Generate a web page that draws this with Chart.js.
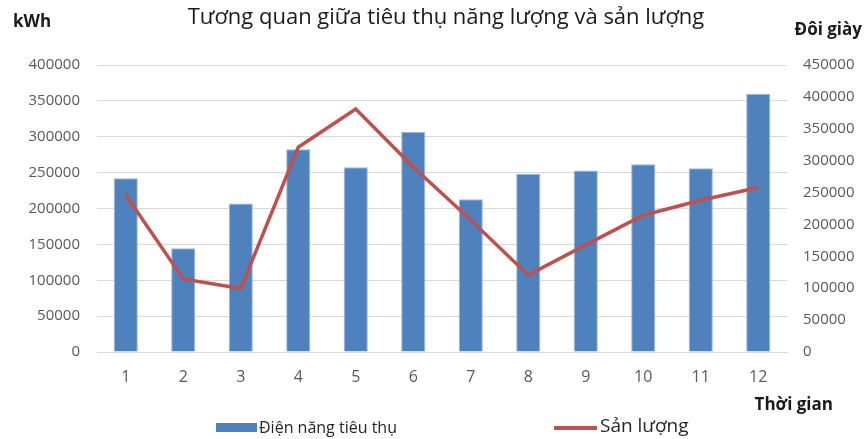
<!DOCTYPE html>
<html>
<head>
<meta charset="utf-8">
<script src="https://cdn.jsdelivr.net/npm/chart.js@4.4.1/dist/chart.umd.min.js"></script>
<style>
  html, body { margin: 0; padding: 0; background: #fff; }
  #wrap { width: 866px; height: 439px; }
</style>
</head>
<body>
<div id="wrap"><canvas id="ComboChart"></canvas></div>
<script>
// du lieu doc tu bieu do
var months = ['1', '2', '3', '4', '5', '6', '7', '8', '9', '10', '11', '12'];
var energyKwh = [242000, 144500, 207000, 282500, 257500, 306500, 213000, 248500, 253000, 261500, 256000, 360000];
var pairsOutput = [246000, 114500, 99500, 321000, 381000, 290000, 207000, 120500, 168000, 214500, 238000, 258000];

var chartTitle = 'Tương quan giữa tiêu thụ năng lượng và sản lượng';
var leftUnit = 'kWh';
var rightUnit = 'Đôi giày';
var xUnit = 'Thời gian';

var FONT = '"Open Sans", "Noto Sans", sans-serif';

// ve tieu de, ten truc va chu thich (legend) bang tay
var decorPlugin = {
    id: 'decor',
    afterDraw: function (chart) {
        var c = chart.ctx;
        c.save();
        c.textBaseline = 'middle';

        c.fillStyle = '#1a1a1a';
        c.font = '22px ' + FONT;
        c.textAlign = 'center';
        c.fillText(chartTitle, 446, 18);

        c.font = 'bold 17px ' + FONT;
        c.textAlign = 'left';
        c.fillText(leftUnit, 13, 22);
        c.textAlign = 'right';
        c.fillText(rightUnit, 862, 30);
        c.fillText(xUnit, 833, 405);

        // legend
        var ds = chart.data.datasets;
        var barDs = ds[1], lineDs = ds[0];
        c.textAlign = 'left';
        c.fillStyle = barDs.backgroundColor;
        c.fillRect(216, 423, 41, 9);
        c.fillStyle = '#262626';
        c.font = '16px ' + FONT;
        c.fillText(barDs.label, 259, 428);

        c.strokeStyle = lineDs.borderColor;
        c.lineWidth = 4;
        c.beginPath();
        c.moveTo(554, 428);
        c.lineTo(597, 428);
        c.stroke();
        c.fillStyle = '#262626';
        c.font = '19px ' + FONT;
        c.fillText(lineDs.label, 600, 427);
        c.restore();
    }
};

var tickFmt = function (v) { return String(v); };

var ctx = document.getElementById('ComboChart').getContext('2d');
var myChart = new Chart(ctx, {
    type: 'bar',
    data: {
        labels: months,
        datasets: [{
            type: 'line',
            label: 'Sản lượng',
            data: pairsOutput,
            yAxisID: 'y2',
            borderColor: '#C0504D',
            backgroundColor: '#C0504D',
            borderWidth: 3.5,
            pointRadius: 0,
            tension: 0,
            order: 0
        }, {
            label: 'Điện năng tiêu thụ',
            data: energyKwh,
            yAxisID: 'y',
            backgroundColor: '#4F81BD',
            borderColor: '#9DB8DA',
            borderWidth: 1,
            barPercentage: 0.42,
            categoryPercentage: 1,
            order: 1
        }]
    },
    options: {
        responsive: true,
        maintainAspectRatio: false,
        animation: false,
        layout: { padding: { top: 65, bottom: 0, left: 0, right: 0 } },
        scales: {
            x: {
                grid: { display: false, drawTicks: false },
                border: { color: '#d9d9d9' },
                ticks: { color: '#595959', font: { size: 16, family: FONT }, padding: 16 },
                afterFit: function (s) { s.height = 87; }
            },
            y: {
                position: 'left',
                min: 0,
                max: 400000,
                grid: { color: '#d9d9d9', drawTicks: false },
                border: { display: false },
                ticks: { stepSize: 50000, callback: tickFmt, color: '#595959', font: { size: 15, family: FONT }, padding: 17 },
                afterFit: function (s) { s.width = 97; }
            },
            y2: {
                position: 'right',
                min: 0,
                max: 450000,
                grid: { display: false, drawTicks: false },
                border: { display: false },
                ticks: { stepSize: 50000, callback: tickFmt, color: '#595959', font: { size: 15, family: FONT }, padding: 16 },
                afterFit: function (s) { s.width = 79; }
            }
        },
        plugins: {
            legend: { display: false },
            title: { display: false },
            tooltip: { enabled: false }
        }
    },
    plugins: [decorPlugin]
});
</script>
</body>
</html>
